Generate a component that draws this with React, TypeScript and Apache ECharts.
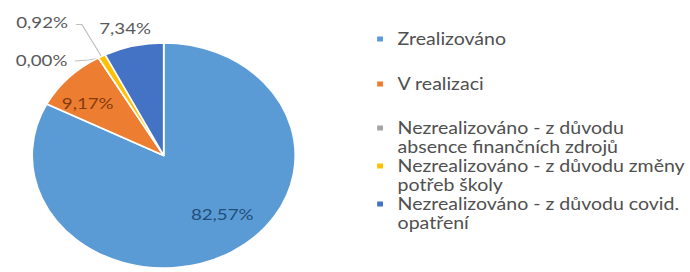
import React, { useEffect, useRef } from "react";
import * as echarts from "echarts";

const categories = [
  "Zrealizováno",
  "V realizaci",
  "Nezrealizováno - z důvodu\nabsence finančních zdrojů",
  "Nezrealizováno - z důvodu změny\npotřeb školy",
  "Nezrealizováno - z důvodu covid.\nopatření",
];
const shares = [82.57, 9.17, 0.0, 0.92, 7.34];
const sliceColors = ["#5B9BD5", "#ED7D31", "#A5A5A5", "#FFC000", "#4472C4"];
const labelColors = ["#1F4E79", "#843C0C", "#595959", "#595959", "#595959"];
const labelInside = [true, true, false, false, false];
const labelLineShown = [false, false, true, true, false];

// layout of the pie (in unscaled chart px)
const CX = 140;
const CY = 155.5;
const R = 112.5;

// label placement (offsets from pie centre), Excel-like
const labelSpots: { dx: number; dy: number; line?: number[][] }[] = [
  { dx: 50, dy: 58.5 },
  { dx: -65, dy: -52.5 },
  { dx: -104.5, dy: -95.5, line: [[-76, -94.5], [-64, -95.5], [-55.6, -97.5]] },
  { dx: -104, dy: -133.5, line: [[-75, -131], [-70, -131], [-53.5, -99.5]] },
  { dx: -33, dy: -127.5 },
];

const SCALE_X = 690 / 590;

export default function App() {
  const ref = useRef<HTMLDivElement>(null);
  useEffect(() => {
    if (!ref.current) return;
    const chart = echarts.init(ref.current, undefined, { renderer: "svg" });
    const font = "Lato";
    const singleIcon = "path://M0,0h12.5M0,19h12.5M0,7h5v5h-5z";
    const doubleIcon = "path://M0,0h12.5M0,38h12.5M0,7h5v5h-5z";
    const legendBase = {
      orient: "vertical" as const,
      left: 322.5,
      padding: 0,
      itemWidth: 12.5,
      selectedMode: false,
      itemStyle: { borderWidth: 0 },
      textStyle: { fontFamily: font, fontSize: 16.7, color: "#505050", lineHeight: 19 },
    };
    chart.setOption({
      animation: false,
      color: sliceColors,
      legend: [
        { ...legendBase, top: 29.5, itemHeight: 19, data: [{ name: categories[0], icon: singleIcon }] },
        { ...legendBase, top: 74.5, itemHeight: 19, data: [{ name: categories[1], icon: singleIcon }] },
        {
          ...legendBase,
          top: 118.5,
          itemHeight: 38,
          itemGap: 0,
          data: categories.slice(2).map((n) => ({ name: n, icon: doubleIcon })),
        },
      ],
      series: [
        {
          type: "pie",
          center: [CX, CY],
          radius: R,
          startAngle: 90,
          clockwise: true,
          avoidLabelOverlap: false,
          emphasis: { disabled: true },
          itemStyle: { borderColor: "#ffffff", borderWidth: 1.5 },
          label: {
            fontFamily: font,
            fontSize: 16,
            formatter: (p: any) => p.value.toFixed(2).replace(".", ",") + "%",
          },
          labelLine: { show: false, lineStyle: { color: "#BFBFBF", width: 1 } },
          labelLayout: (p: any) => {
            const s = labelSpots[p.dataIndex];
            const out: any = {
              x: CX + s.dx,
              y: CY + s.dy,
              align: "center",
              verticalAlign: "middle",
            };
            if (s.line) out.labelLinePoints = s.line.map(([x, y]) => [CX + x, CY + y]);
            return out;
          },
          data: shares.map((v, i) => ({
            name: categories[i],
            value: v,
            label: {
              position: labelInside[i] ? "inside" : "outside",
              color: labelColors[i],
            },
            labelLine: { show: labelLineShown[i] },
          })),
        },
      ],
    });
    return () => chart.dispose();
  }, []);
  return (
    <div
      ref={ref}
      style={{
        position: "absolute",
        left: 0,
        top: 0,
        width: 590,
        height: 272,
        transform: `scaleX(${SCALE_X})`,
        transformOrigin: "0 0",
      }}
    />
  );
}
